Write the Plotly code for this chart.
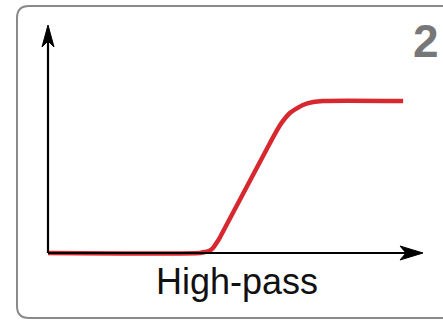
import plotly.graph_objects as go

# ---- data (normalised frequency vs. gain) ----
freq = [0, 40.5, 41.9, 43.2, 44.0, 45.1, 45.9, 59.2, 61.9, 64.5, 68.0, 70.7, 73.3, 94.7]
gain = [0, 0, 0.007, 0.016, 0.033, 0.072, 0.105, 0.724, 0.842, 0.921, 0.974, 0.993, 1.0, 1.0]
x_range = [-4, 100]
y_range = [-0.125, 1.5]
label = "High-pass"
panel_number = "2"

W, H = 443, 320
ML, MR, MT, MB = 33, 20, 25, 48
PW, PH = W - ML - MR, H - MT - MB
X0PX, Y0PX = 48, 253  # pixel position of the data origin


def px_to_paper(px, py):
    return (px - ML) / PW, (H - MB - py) / PH


fig = go.Figure()
fig.add_trace(go.Scatter(
    x=freq, y=gain, mode="lines",
    line=dict(color="#d7282f", width=4.5, shape="spline", smoothing=0.6),
    hoverinfo="skip", showlegend=False,
))

shapes = []
# axes
shapes.append(dict(type="line", xref="x", yref="y", x0=0, y0=0, x1=x_range[1] - 3, y1=0,
                   line=dict(color="#000", width=2.2)))
shapes.append(dict(type="line", xref="x", yref="y", x0=0, y0=0, x1=0, y1=y_range[1] - 0.05,
                   line=dict(color="#000", width=2.2)))
# arrow heads
shapes.append(dict(type="path", xref="x", yref="y", xsizemode="pixel", ysizemode="pixel",
                   xanchor=x_range[1], yanchor=0,
                   path="M0,0 L-23,7 L-17,0 L-23,-7 Z",
                   fillcolor="#000", line=dict(color="#000", width=1)))
shapes.append(dict(type="path", xref="x", yref="y", xsizemode="pixel", ysizemode="pixel",
                   xanchor=0, yanchor=y_range[1],
                   path="M0,0 L-6,-22 L0,-16 L6,-22 Z",
                   fillcolor="#000", line=dict(color="#000", width=1)))
# rounded panel border
r = 12
pts = {
    "a": px_to_paper(470, 6), "b": px_to_paper(17 + r, 6), "c": px_to_paper(17, 6),
    "d": px_to_paper(17, 6 + r), "e": px_to_paper(17, 318 - r), "f": px_to_paper(17, 318),
    "g": px_to_paper(17 + r, 318), "h": px_to_paper(470, 318),
}
p = lambda k: f"{pts[k][0]:.5f},{pts[k][1]:.5f}"
border_path = (f"M{p('a')} L{p('b')} Q{p('c')} {p('d')} L{p('e')} "
               f"Q{p('f')} {p('g')} L{p('h')}")
shapes.append(dict(type="path", xref="paper", yref="paper", path=border_path,
                   line=dict(color="#8a8a8a", width=2)))

lx, ly = px_to_paper(237, 281)
nx, ny = px_to_paper(426, 41)
annotations = [
    dict(text=label, xref="paper", yref="paper", x=lx, y=ly, showarrow=False,
         xanchor="center", yanchor="middle",
         font=dict(family="Liberation Sans, Arial", size=36, color="#111")),
    dict(text=panel_number, xref="paper", yref="paper", x=nx, y=ny, showarrow=False,
         xanchor="center", yanchor="middle",
         font=dict(family="Liberation Sans, Arial", size=46, color="#777", weight="bold")),
]

fig.update_layout(
    width=W, height=H,
    margin=dict(l=ML, r=MR, t=MT, b=MB, pad=0),
    paper_bgcolor="white", plot_bgcolor="rgba(0,0,0,0)",
    xaxis=dict(range=x_range, visible=False, fixedrange=True),
    yaxis=dict(range=y_range, visible=False, fixedrange=True),
    shapes=shapes, annotations=annotations,
    showlegend=False,
)
fig.write_html("out.html", config={"displayModeBar": False},
               post_script=["document.body.style.margin='0';"])
